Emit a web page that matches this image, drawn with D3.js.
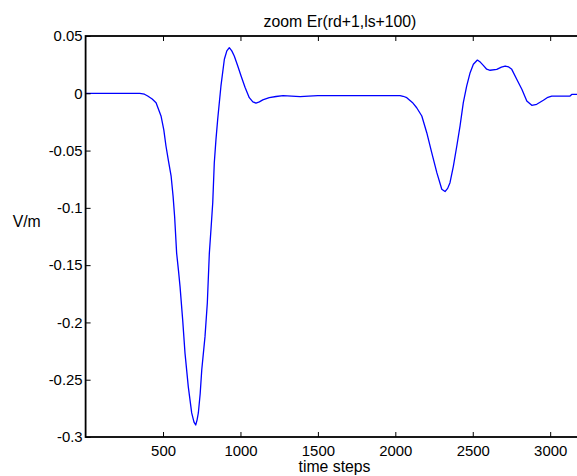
<!DOCTYPE html>
<html>
<head>
<meta charset="utf-8">
<script src="https://cdn.jsdelivr.net/npm/d3@7"></script>
<style>
  html, body { margin: 0; padding: 0; background: #fff; }
  svg { display: block; }
  text { font-family: "Liberation Sans", Arial, sans-serif; fill: #000; }
</style>
</head>
<body>
<svg id="chart" width="577" height="476"></svg>
<script>
const timeSteps = [0, 350, 380, 401, 430, 455, 487, 505, 519, 535, 552, 565, 575, 588, 600, 610, 627, 642, 663, 685, 700, 711, 720, 728, 740, 750, 771, 786, 799, 810, 821, 831, 842, 853, 874, 896, 912, 928, 944, 960, 982, 1004, 1030, 1057, 1080, 1100, 1122, 1144, 1186, 1230, 1275, 1330, 1385, 1440, 1500, 2031, 2050, 2074, 2110, 2138, 2171, 2203, 2235, 2268, 2300, 2321, 2338, 2353, 2375, 2397, 2418, 2439, 2461, 2483, 2504, 2530, 2550, 2568, 2590, 2612, 2655, 2685, 2709, 2732, 2752, 2784, 2817, 2849, 2881, 2913, 2956, 2985, 3010, 3128, 3139, 3270];
const fieldValues = [0, 0, -0.0008, -0.0024, -0.005, -0.0082, -0.0198, -0.032, -0.046, -0.059, -0.072, -0.09, -0.108, -0.1397, -0.155, -0.169, -0.198, -0.227, -0.256, -0.279, -0.287, -0.2895, -0.285, -0.279, -0.262, -0.2415, -0.2124, -0.183, -0.1397, -0.118, -0.0955, -0.0606, -0.040, -0.0227, 0.0064, 0.0297, 0.037, 0.0398, 0.037, 0.0326, 0.024, 0.0151, 0.005, -0.0038, -0.0075, -0.0085, -0.0075, -0.0058, -0.0038, -0.0028, -0.002, -0.0025, -0.003, -0.0025, -0.002, -0.002, -0.0026, -0.0038, -0.008, -0.0126, -0.0198, -0.0344, -0.0518, -0.0693, -0.0838, -0.0858, -0.083, -0.078, -0.0635, -0.046, -0.0285, -0.0082, 0.0064, 0.018, 0.0253, 0.029, 0.027, 0.0244, 0.021, 0.0201, 0.0209, 0.0228, 0.0238, 0.023, 0.0209, 0.0122, 0.0035, -0.0067, -0.0105, -0.0096, -0.0061, -0.0035, -0.0024, -0.0024, -0.001, -0.001];
const xTicks = [500, 1000, 1500, 2000, 2500, 3000];
const yTicks = [0.05, 0, -0.05, -0.1, -0.15, -0.2, -0.25, -0.3];
const titleText = "zoom Er(rd+1,ls+100)";
const xLabelText = "time steps";
const yLabelText = "V/m";

const svg = d3.select("#chart");
const mLeft = 85.6, mRight = 592, mTop = 36, mBottom = 437;
const fsTick = "14.9px";
const fsLabel = "15.8px";

const x = d3.scaleLinear().domain([0, 3270]).range([mLeft, mRight]);
const y = d3.scaleLinear().domain([-0.3, 0.05]).range([mBottom, mTop]);

const fmtY = d => d === 0 ? "0" : String(+d.toFixed(2));

// line
const data = timeSteps.map((t, i) => [t, fieldValues[i]]);
svg.append("path")
  .datum(data)
  .attr("fill", "none")
  .attr("stroke", "#0000ff")
  .attr("stroke-width", 1.3)
  .attr("stroke-linejoin", "round")
  .attr("d", d3.line().x(d => x(d[0])).y(d => y(d[1])));

// axes
function styleAxis(g) {
  g.selectAll(".domain").remove();
  g.selectAll(".tick line").attr("stroke", "#000").attr("stroke-width", 1);
  g.selectAll(".tick text").attr("font-size", fsTick).attr("font-family", null);
}

svg.append("g").attr("transform", `translate(0,${mBottom})`)
  .call(d3.axisBottom(x).tickValues(xTicks).tickSizeInner(-5).tickSizeOuter(0).tickPadding(8).tickFormat(d3.format("d")))
  .call(styleAxis);

svg.append("g").attr("transform", `translate(0,${mTop})`)
  .call(d3.axisTop(x).tickValues(xTicks).tickSizeInner(-5).tickSizeOuter(0).tickFormat(""))
  .call(styleAxis);

svg.append("g").attr("transform", `translate(${mLeft},0)`)
  .call(d3.axisLeft(y).tickValues(yTicks).tickSizeInner(-5).tickSizeOuter(0).tickPadding(3).tickFormat(fmtY))
  .call(styleAxis);

svg.append("g").attr("transform", `translate(${mRight},0)`)
  .call(d3.axisRight(y).tickValues(yTicks).tickSizeInner(-5).tickSizeOuter(0).tickFormat(""))
  .call(styleAxis);

// frame
svg.append("rect")
  .attr("x", mLeft).attr("y", mTop)
  .attr("width", mRight - mLeft).attr("height", mBottom - mTop)
  .attr("fill", "none").attr("stroke", "#000").attr("stroke-width", 1.8);

// labels
svg.append("text").attr("x", 340).attr("y", 27).attr("text-anchor", "middle")
  .attr("font-size", fsLabel).text(titleText);
svg.append("text").attr("x", 334.5).attr("y", 472).attr("text-anchor", "middle")
  .attr("font-size", fsLabel).text(xLabelText);
svg.append("text").attr("x", 26.7).attr("y", 227).attr("text-anchor", "middle")
  .attr("font-size", fsLabel).text(yLabelText);
</script>
</body>
</html>
